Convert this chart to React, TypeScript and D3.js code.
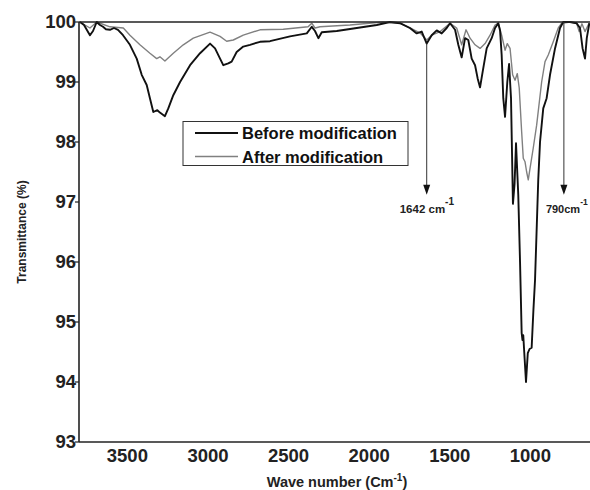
import React from "react";
import * as d3 from "d3";

const beforeWave = [3794,3769,3732,3713,3690,3670,3651,3633,3608,3583,3558,3527,3484,3442,3411,3380,3360,3339,3314,3298,3267,3246,3215,3173,3111,3049,2987,2956,2925,2905,2874,2853,2822,2781,2739,2677,2615,2491,2387,2356,2336,2315,2294,2201,2077,1953,1871,1809,1747,1705,1674,1643,1612,1581,1550,1519,1498,1467,1447,1426,1405,1385,1364,1343,1327,1312,1296,1271,1240,1219,1199,1188,1178,1168,1157,1143,1132,1120,1108,1098,1089,1075,1064,1054,1049,1044,1038,1027,1016,1005,992,981,971,951,940,920,899,878,847,816,796,754,713,692,676,661,650,634];
const beforeT = [100.0,99.95,99.78,99.85,100.0,99.95,99.92,99.88,99.87,99.9,99.87,99.78,99.62,99.39,99.12,98.95,98.73,98.5,98.53,98.49,98.43,98.56,98.78,99.0,99.28,99.48,99.64,99.56,99.39,99.28,99.31,99.34,99.5,99.59,99.62,99.67,99.68,99.76,99.81,99.92,99.85,99.73,99.83,99.85,99.9,99.95,100.0,99.98,99.9,99.81,99.84,99.64,99.78,99.86,99.81,99.9,99.98,99.87,99.62,99.41,99.73,99.7,99.39,99.28,99.06,98.91,99.17,99.56,99.73,99.9,99.98,99.86,99.45,98.73,98.42,99.0,99.3,98.73,96.97,97.3,97.98,97.12,96.0,94.82,94.7,94.78,94.5,94.0,94.48,94.55,94.57,95.2,95.7,97.37,98.0,98.56,98.73,99.12,99.56,99.9,100.0,100.0,99.98,99.9,99.56,99.39,99.73,99.98];

const afterWave = [3794,3732,3690,3608,3525,3484,3422,3360,3318,3298,3267,3215,3153,3091,2987,2925,2884,2843,2781,2677,2533,2379,2356,2336,2305,2119,1914,1809,1747,1685,1643,1612,1560,1498,1457,1426,1399,1374,1343,1312,1281,1250,1219,1199,1178,1157,1143,1126,1110,1095,1081,1069,1054,1044,1033,1023,1013,1002,982,961,930,909,889,858,827,806,754,713,697,680,661,636];
const afterT = [100.0,99.9,100.0,99.92,99.9,99.78,99.62,99.48,99.39,99.42,99.35,99.48,99.62,99.73,99.83,99.76,99.68,99.7,99.78,99.87,99.88,99.92,99.98,99.9,99.92,99.95,100.0,99.98,99.9,99.82,99.7,99.78,99.84,99.98,99.9,99.62,99.87,99.73,99.62,99.56,99.64,99.78,99.95,99.98,99.78,99.53,99.64,99.56,99.12,99.03,99.14,98.9,98.17,97.73,97.67,97.5,97.37,97.56,97.9,98.28,99.0,99.34,99.45,99.67,99.9,99.98,100.0,99.98,99.84,99.97,99.84,99.98];

const xTicks = [3500, 3000, 2500, 2000, 1500, 1000];
const yTicks = [93, 94, 95, 96, 97, 98, 99, 100];
const seriesNames = ["Before modification", "After modification"];
const seriesColors = ["#111111", "#808080"];

// annotations: wavenumber, start transmittance, label, superscript
const annWave = [1643, 792];
const annStart = [99.64, 100];
const annLabel = ["1642 cm", "790cm"];

const FONT = "'Liberation Sans', Arial, sans-serif";

export default function App() {
  const W = 590, H = 490;
  const left = 79, right = 590, top = 22, bottom = 442;
  const x = d3.scaleLinear().domain([3800, 630]).range([left, right]);
  const y = d3.scaleLinear().domain([93, 100]).range([bottom, top]);
  const line = d3.line<[number, number]>().x(d => x(d[0])).y(d => y(d[1]));
  const bData = beforeWave.map((w, i) => [w, beforeT[i]] as [number, number]);
  const aData = afterWave.map((w, i) => [w, afterT[i]] as [number, number]);
  const tipT = 97.12;
  const labT = 96.82;

  return (
    <svg width={W} height={H} style={{ position: "absolute", left: 0, top: 0, background: "#fff" }} fontFamily={FONT}>
      <rect x={0} y={0} width={W} height={H} fill="#fff" />
      <path d={line(aData) || ""} fill="none" stroke={seriesColors[1]} strokeWidth={1.4} strokeLinejoin="round" />
      <path d={line(bData) || ""} fill="none" stroke={seriesColors[0]} strokeWidth={1.9} strokeLinejoin="round" />
      {/* frame */}
      <line x1={left} x2={right} y1={top} y2={top} stroke="#222" strokeWidth={1.6} />
      <line x1={left} x2={left} y1={top} y2={bottom} stroke="#222" strokeWidth={1.6} />
      <line x1={left} x2={right} y1={bottom} y2={bottom} stroke="#222" strokeWidth={1.6} />
      {yTicks.map(t => (
        <g key={t}>
          <line x1={left - 4} x2={left} y1={y(t)} y2={y(t)} stroke="#222" strokeWidth={1.2} />
          <text x={left - 3} y={y(t) + 6} textAnchor="end" fontSize={18.5} fontWeight="bold" fill="#222">{t}</text>
        </g>
      ))}
      {xTicks.map(t => (
        <text key={t} x={x(t)} y={462} textAnchor="middle" fontSize={18.5} fontWeight="bold" fill="#222">{t}</text>
      ))}
      <text x={337} y={487} textAnchor="middle" fontSize={14.5} fontWeight="bold" fill="#222">
        Wave number (Cm<tspan dy={-6} fontSize={10}>-1</tspan><tspan dy={6}>)</tspan>
      </text>
      <text transform={`translate(26,232) rotate(-90)`} textAnchor="middle" fontSize={12} fontWeight="bold" fill="#222">Transmittance (%)</text>
      {/* annotations */}
      {annWave.map((w, i) => (
        <g key={i}>
          <line x1={x(w)} x2={x(w)} y1={y(annStart[i])} y2={y(tipT) - 8} stroke="#333" strokeWidth={1} />
          <path d={`M${x(w) - 3.5},${y(tipT) - 10}L${x(w) + 3.5},${y(tipT) - 10}L${x(w)},${y(tipT)}Z`} fill="#111" />
          <text x={i === 0 ? x(w) - 27 : x(w) - 18} y={y(labT)} fontSize={i === 0 ? 11.5 : 11} fontWeight="bold" fill="#222">
            {annLabel[i]}<tspan dy={-8} fontSize={i === 0 ? 10 : 8.5}>-1</tspan>
          </text>
        </g>
      ))}
      {/* legend */}
      <rect x={183} y={121.5} width={225} height={44} fill="#fff" stroke="#333" strokeWidth={1} />
      {seriesNames.map((n, i) => (
        <g key={n}>
          <line x1={195} x2={238} y1={133 + i * 23.5} y2={133 + i * 23.5} stroke={seriesColors[i]} strokeWidth={i === 0 ? 1.9 : 1.4} />
          <text x={242} y={139 + i * 23.5} fontSize={16.5} fontWeight="bold" fill="#111">{n}</text>
        </g>
      ))}
    </svg>
  );
}
